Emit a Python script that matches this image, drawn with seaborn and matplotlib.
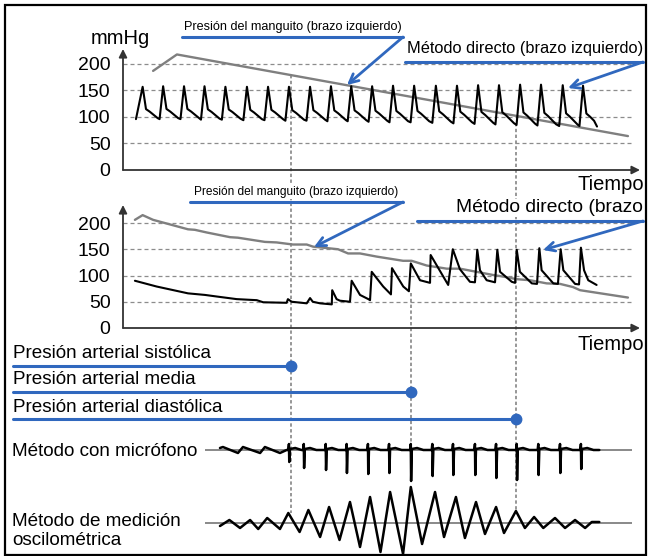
import matplotlib
matplotlib.use('Agg')
import matplotlib.pyplot as plt
import seaborn as sns
from matplotlib import font_manager
from matplotlib.patches import Rectangle
from matplotlib.transforms import blended_transform_factory

# time is counted in heart beats, pressure in mmHg

# upper panel: cuff pressure and direct pressure, left arm
cuff1_t = [1.44, 2.58, 24.16]
cuff1_p = [187, 218, 64]

beat_t = [0.94, 1.92, 2.92, 3.90, 4.90, 5.93, 6.94, 7.94, 8.95, 9.95, 10.92,
          11.92, 12.92, 13.93, 14.97, 15.98, 16.99, 17.99, 19.00, 20.00, 21.04, 22.01]
beat_peak = [157, 158, 158, 158, 157, 157, 157, 157, 157, 158, 158,
             158, 159, 159, 159, 159, 160, 160, 161, 161, 160, 159]
beat_low = [96, 96, 96, 95, 95, 94, 94, 93, 93, 92, 92,
            91, 90, 90, 89, 88, 87, 86, 85, 84, 83, 83]
# one beat: time after the peak, share of the pulse height
shape_dt = [0.16, 0.34, 0.53, 0.72]
shape_part = [0.31, 0.23, 0.13, 0.03]
direct1_start = [0.62, 96]
direct1_end = [22.68, 82]

# lower panel
cuff2_t = [0.57, 0.94, 1.44, 3.11, 3.44, 4.00, 5.12, 5.50, 6.79, 7.35, 8.13, 8.79,
           9.09, 10.29, 10.77, 11.34, 12.14, 13.40, 13.81, 14.53, 15.49, 16.12,
           16.92, 17.70, 18.18, 18.84, 19.47, 20.27, 20.91, 21.53, 21.87, 24.16]
cuff2_p = [206, 215, 206, 188, 187, 182, 173, 172, 164, 163, 159, 159,
           155, 150, 142, 142, 136, 128, 128, 119, 113, 113,
           107, 101, 98, 93, 91, 85, 84, 78, 72, 58]

direct2_t = [0.57, 1.61, 3.11, 3.92, 4.48, 5.44, 6.40, 6.71, 7.83,
             7.89, 8.07, 8.79,
             8.95, 9.08, 9.43, 9.99,
             10.01, 10.22, 10.38, 10.86,
             10.94, 11.34, 11.74, 11.82,
             11.90, 12.45, 12.82,
             12.87, 13.41, 13.68,
             13.77, 14.21, 14.69,
             14.72, 15.56,
             15.78, 16.12, 16.60, 16.84,
             16.95, 17.08, 17.40, 17.80,
             17.91, 18.04, 18.60, 18.76,
             18.84, 18.99, 19.56, 19.81,
             19.92, 20.03, 20.59, 20.81,
             20.94, 21.07, 21.63, 21.82,
             21.91, 22.06, 22.26, 22.66]
direct2_p = [90, 79, 66, 63, 60, 55, 53, 49, 48,
             55, 50, 47,
             57, 50, 47, 45,
             72, 55, 52, 50,
             90, 63, 55, 53,
             107, 79, 64,
             114, 79, 70,
             123, 91, 86,
             139, 82,
             150, 112, 88, 87,
             149, 110, 91, 87,
             149, 107, 88, 86,
             149, 107, 85, 84,
             152, 110, 85, 84,
             150, 110, 84, 83,
             153, 110, 91, 82]

# systolic, mean and diastolic instants
sbp_t = 8.04
map_t = 13.76
dbp_t = 18.80

# microphone (Korotkoff sounds), arbitrary units
mic_pre_t = [4.64, 4.78, 5.50, 5.74, 6.56, 6.79, 7.51, 7.83]
mic_pre_a = [2, 3, -3, 3, -3, 3, -3, 0]
mic_spike_t = [7.94, 8.65, 9.70, 10.70, 11.72, 12.73, 13.77, 14.80, 15.79,
               16.84, 17.85, 18.84, 19.87, 20.91, 21.91]
mic_spike_depth = [12, 18, 20, 23, 24, 23, 31, 26, 25, 25, 28, 30, 25, 23, 19]
mic_end_t = 22.79

# oscillometric signal, arbitrary units
osc_t = [4.64, 5.09, 5.60, 6.08, 6.47, 6.90, 7.51, 7.91, 8.45, 8.87, 9.43, 9.86,
         10.36, 10.86, 11.34, 11.82, 12.32, 12.78, 13.40, 13.77, 14.31, 14.93,
         15.36, 15.93, 16.36, 16.89, 17.32, 17.85, 18.23, 18.80, 19.23, 19.67,
         20.11, 20.67, 21.15, 21.63, 22.11, 22.43, 22.79]
osc_a = [-3, 3, -5, 3, -6, 5, -6, 10, -9, 13, -14, 16,
         -17, 21, -24, 26, -29, 31, -31, 36, -21, 31,
         -14, 26, -15, 21, -11, 16, -10, 12, -5, 6,
         -5, 5, -5, 3, -5, 1, 1]

# build the top direct trace from the beats
d1_t = [direct1_start[0]]
d1_p = [direct1_start[1]]
for i, (tp, hi, lo) in enumerate(zip(beat_t, beat_peak, beat_low)):
    if i > 0:
        d1_t.append(tp - 0.17)
        d1_p.append(lo)
    d1_t.append(tp)
    d1_p.append(hi)
    for dt, part in zip(shape_dt, shape_part):
        if i == len(beat_t) - 1 and dt > 0.6:
            continue
        d1_t.append(tp + dt)
        d1_p.append(lo + part * (hi - lo))
d1_t.append(direct1_end[0])
d1_p.append(direct1_end[1])

# microphone: flat line with a sharp tick at every sound
m_t = list(mic_pre_t)
m_a = list(mic_pre_a)
for ts, d in zip(mic_spike_t, mic_spike_depth):
    m_t += [ts - 0.03, ts, ts + 0.015, ts + 0.05, ts + 0.3, ts + 0.6]
    m_a += [0, 6, -d, 1, 2, 0]
m_t.append(mic_end_t)
m_a.append(0)

sns.set_style('white')
plt.rcParams['font.family'] = ['Liberation Sans', 'DejaVu Sans']
plt.rcParams['text.color'] = 'black'

names = {f.name for f in font_manager.fontManager.ttflist}
if 'Liberation Sans Narrow' in names:
    narrow_font = 'Liberation Sans Narrow'
    narrow_size = [11.1, 10.5]
else:
    narrow_font = 'Liberation Sans'
    narrow_size = [9.1, 8.6]

W, H = 648, 556
fig = plt.figure(figsize=(W / 100, H / 100), dpi=100)

X0, X1 = 123, 640
XMAX = (X1 - X0) / 20.9
T_GRID_END = (632 - X0) / 20.9
T_BASE0 = (205 - X0) / 20.9


def px_axes(top, bottom, z=1):
    a = fig.add_axes([X0 / W, 1 - bottom / H, (X1 - X0) / W, (bottom - top) / H], zorder=z)
    a.patch.set_alpha(0)
    return a


back = fig.add_axes([0, 0, 1, 1], zorder=0)
back.set_xlim(0, W)
back.set_ylim(H, 0)
back.axis('off')

ax1 = px_axes(45, 170)
ax1.set_ylim(0, 125 / 0.53)
ax2 = px_axes(200, 328)
ax2.set_ylim(0, 128 / 0.525)
ax3 = px_axes(425, 490)
ax3.set_ylim(-40, 25)
ax4 = px_axes(480, 556)
ax4.set_ylim(-33, 43)

front = fig.add_axes([0, 0, 1, 1], zorder=3)
front.set_xlim(0, W)
front.set_ylim(H, 0)
front.axis('off')
front.patch.set_alpha(0)

for ax in [ax1, ax2, ax3, ax4]:
    ax.set_xlim(0, XMAX)
    sns.despine(ax=ax, left=True, bottom=True)
    ax.set_xticks([])

grey_dash = (0, (3.2, 2.4))
for ax, top_frac in [(ax1, (170 - 49) / 125), (ax2, (328 - 205) / 128)]:
    ax.set_yticks([0, 50, 100, 150, 200])
    ax.tick_params(axis='y', length=0, pad=9, labelsize=14, labelcolor='black')
    ax.hlines([50, 100, 150, 200], 0, T_GRID_END, colors='#8c8c8c',
              linestyles=[grey_dash], lw=0.9, zorder=1)
    ax.annotate('', xy=(0, top_frac), xytext=(0, 0), xycoords='axes fraction',
                arrowprops=dict(arrowstyle='-|>', color='#333333', lw=1.3,
                                mutation_scale=12, shrinkA=0, shrinkB=0))
    ax.annotate('', xy=(1, 0), xytext=(0, 0), xycoords='axes fraction',
                arrowprops=dict(arrowstyle='-|>', color='#333333', lw=1.3,
                                mutation_scale=12, shrinkA=0, shrinkB=0))

for ax in [ax3, ax4]:
    ax.set_yticks([])
    ax.hlines(0, T_BASE0, T_GRID_END, colors='#808080', lw=1.3, zorder=1)

sns.lineplot(x=cuff1_t, y=cuff1_p, ax=ax1, color='#7f7f7f', lw=1.7,
             sort=False, estimator=None, zorder=2)
sns.lineplot(x=d1_t, y=d1_p, ax=ax1, color='black', lw=1.5,
             sort=False, estimator=None, zorder=3)
sns.lineplot(x=cuff2_t, y=cuff2_p, ax=ax2, color='#7f7f7f', lw=1.7,
             sort=False, estimator=None, zorder=2)
sns.lineplot(x=direct2_t, y=direct2_p, ax=ax2, color='black', lw=1.5,
             sort=False, estimator=None, zorder=3)
sns.lineplot(x=m_t, y=m_a, ax=ax3, color='black', lw=1.8,
             sort=False, estimator=None, zorder=3)
sns.lineplot(x=osc_t, y=osc_a, ax=ax4, color='black', lw=1.8,
             sort=False, estimator=None, zorder=3)
for ax in [ax1, ax2, ax3, ax4]:
    for ln in ax.lines:
        ln.set_clip_on(False)
    ax.set_xlabel('')
    ax.set_ylabel('')

# dotted guides, x in time, y in figure pixels
tb = blended_transform_factory(ax1.transData, back.transData)
for t, y0, y1 in [(sbp_t, 75, 513), (map_t, 293, 445), (dbp_t, 123, 511)]:
    back.plot([t, t], [y0, y1], transform=tb, color='#7a7a7a', lw=1.1,
              ls=(0, (2.2, 1.6)))

blue = '#3068be'
label = dict(color='black', va='center', ha='left',
             bbox=dict(facecolor='white', edgecolor='none', pad=0.5))
arrow = dict(arrowstyle='->', color=blue, lw=2, mutation_scale=16,
             shrinkA=0, shrinkB=0)

front.text(120, 38, 'mmHg', fontsize=14.5, ha='center', va='center', color='black')
front.text(644, 185, 'Tiempo', fontsize=14.5, ha='right', va='center', color='black')
front.text(644, 344, 'Tiempo', fontsize=14.5, ha='right', va='center', color='black')

front.text(184, 27, 'Presión del manguito (brazo izquierdo)', family=narrow_font,
           fontsize=narrow_size[0], **label)
front.plot([182, 403], [37, 37], color=blue, lw=2.2)
front.annotate('', xy=(347, 85), xytext=(403, 37), arrowprops=arrow)

front.text(407, 49, 'Método directo (brazo izquierdo)', fontsize=11.8, **label)
front.plot([405, 643], [62, 62], color=blue, lw=2.2)
front.annotate('', xy=(568, 88), xytext=(643, 62), arrowprops=arrow)

front.text(194, 192, 'Presión del manguito (brazo izquierdo)', family=narrow_font,
           fontsize=narrow_size[1], **label)
front.plot([190, 403], [202, 202], color=blue, lw=2.2)
front.annotate('', xy=(314, 247), xytext=(403, 202), arrowprops=arrow)

lab_r = dict(label)
lab_r['ha'] = 'right'
front.text(643, 208, 'Método directo (brazo', fontsize=13.9, **lab_r)
front.plot([417, 643], [221, 221], color=blue, lw=2.2)
front.annotate('', xy=(543, 250), xytext=(643, 221), arrowprops=arrow)

# blue markers for the three pressures
tf = blended_transform_factory(ax1.transData, front.transData)
left_t = ax1.transData.inverted().transform(front.transData.transform((13, 0)))[0]
for name, t, y in [('Presión arterial sistólica', sbp_t, 366),
                   ('Presión arterial media', map_t, 392),
                   ('Presión arterial diastólica', dbp_t, 419)]:
    front.text(13, y - 12, name, fontsize=13.6, **label)
    front.plot([left_t, t], [y, y], color=blue, lw=2.2, transform=tf)
    front.plot([t], [y], 'o', color=blue, ms=7.5, transform=tf)

front.text(12, 452, 'Método con micrófono', fontsize=13.6, **label)
front.text(12, 531, 'Método de medición\noscilométrica', fontsize=13.6,
           linespacing=1.15, ha='left', va='center', color='black')

front.add_patch(Rectangle((4.5, 5), 641.5, 550, fill=False, ec='black', lw=1.6))

fig.savefig('out.png', dpi=100)
